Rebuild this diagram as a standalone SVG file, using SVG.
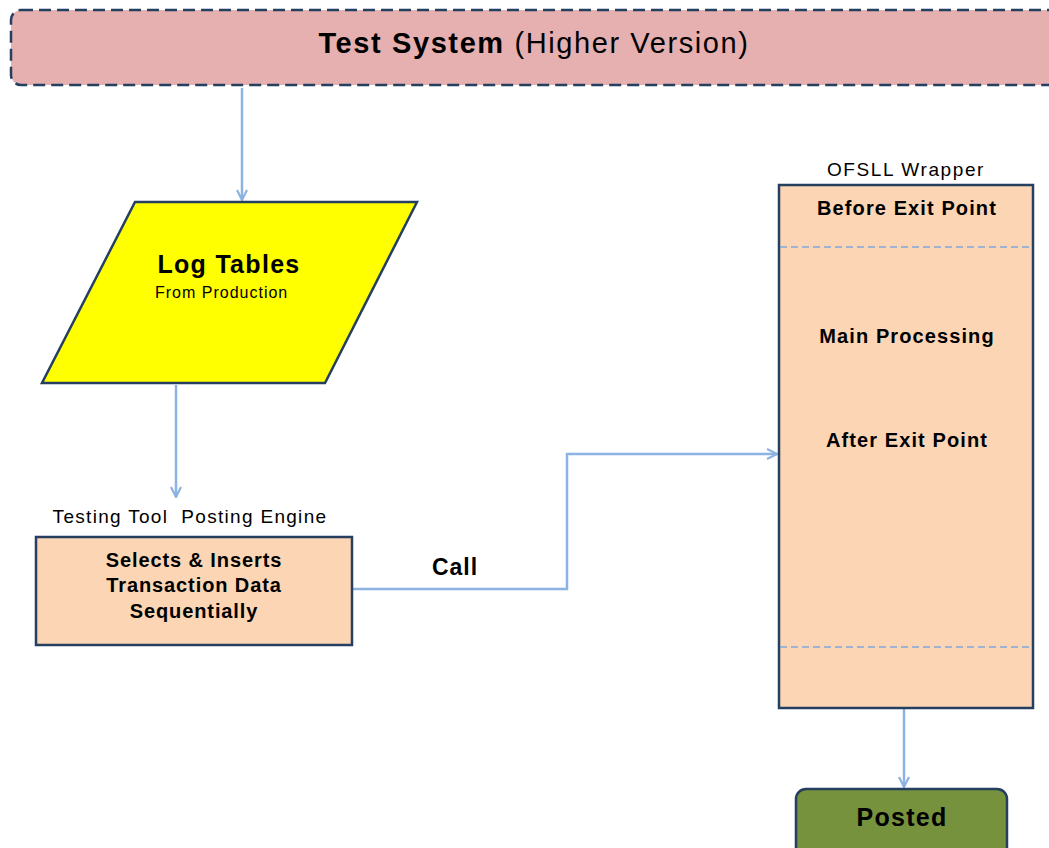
<svg xmlns="http://www.w3.org/2000/svg" width="1049" height="848" viewBox="0 0 1049 848">
<style>
text{font-family:"Liberation Sans",Arial,sans-serif;fill:#000}
.b{font-weight:bold}
.node{stroke:#243f60;stroke-width:2.5}
.conn{fill:none;stroke:#8db3e2;stroke-width:2.5}
.div{stroke:#7fa7dc;stroke-width:1.5;stroke-dasharray:7,4}
</style>
<defs>
<marker id="arr" viewBox="0 0 12 12" refX="11" refY="6" markerWidth="12" markerHeight="12" markerUnits="userSpaceOnUse" orient="auto">
<path d="M1,1 L11,6 L1,11" fill="none" stroke="#8db3e2" stroke-width="2.2"/>
</marker>
</defs>
<rect width="1049" height="848" fill="#fff"/>
<g id="connectors">
<path class="conn" d="M242,88 V200" marker-end="url(#arr)"/>
<path class="conn" d="M176,385 V497" marker-end="url(#arr)"/>
<path class="conn" d="M353,589 H567 V454 H777" marker-end="url(#arr)"/>
<path class="conn" d="M904,709 V787" marker-end="url(#arr)"/>
<text x="455" y="575" text-anchor="middle" font-size="23" letter-spacing="1" class="b">Call</text>
</g>
<g id="test-system">
<rect x="11" y="10" width="1060" height="75" rx="10" fill="#e6b0b0" stroke="#243f60" stroke-width="2.5" stroke-dasharray="12,6"/>
<text x="534" y="53" text-anchor="middle" font-size="29" letter-spacing="1.6"><tspan class="b">Test System</tspan> (Higher Version)</text>
</g>
<g id="log-tables">
<polygon class="node" points="135,202 417,202 325,383 42,383" fill="#ffff00"/>
<text x="229" y="273" text-anchor="middle" font-size="25" letter-spacing="1.3" class="b">Log Tables</text>
<text x="155" y="298" font-size="16" letter-spacing="1">From Production</text>
</g>
<g id="posting-engine">
<text x="190" y="523" text-anchor="middle" font-size="19" letter-spacing="1.3" xml:space="preserve">Testing Tool  Posting Engine</text>
<rect class="node" x="36" y="537" width="316" height="108" fill="#fcd5b4"/>
<text x="194" y="567" text-anchor="middle" font-size="20" letter-spacing="0.9" class="b">Selects &amp; Inserts</text>
<text x="194" y="592" text-anchor="middle" font-size="20" letter-spacing="0.9" class="b">Transaction Data</text>
<text x="194" y="618" text-anchor="middle" font-size="20" letter-spacing="0.9" class="b">Sequentially</text>
</g>
<g id="ofsll-wrapper">
<text x="906" y="176" text-anchor="middle" font-size="19" letter-spacing="1.6">OFSLL Wrapper</text>
<rect class="node" x="779" y="185" width="254" height="523" fill="#fcd5b4"/>
<line class="div" x1="780" y1="247" x2="1032" y2="247"/>
<line class="div" x1="780" y1="647" x2="1032" y2="647"/>
<text x="907" y="215" text-anchor="middle" font-size="20" letter-spacing="1.1" class="b">Before Exit Point</text>
<text x="907" y="343" text-anchor="middle" font-size="20" letter-spacing="1.1" class="b">Main Processing</text>
<text x="907" y="447" text-anchor="middle" font-size="20" letter-spacing="1.1" class="b">After Exit Point</text>
</g>
<g id="posted">
<rect class="node" x="796" y="789" width="211" height="70" rx="10" fill="#76923c"/>
<text x="902" y="826" text-anchor="middle" font-size="25" letter-spacing="1.3" class="b">Posted</text>
</g>
</svg>
